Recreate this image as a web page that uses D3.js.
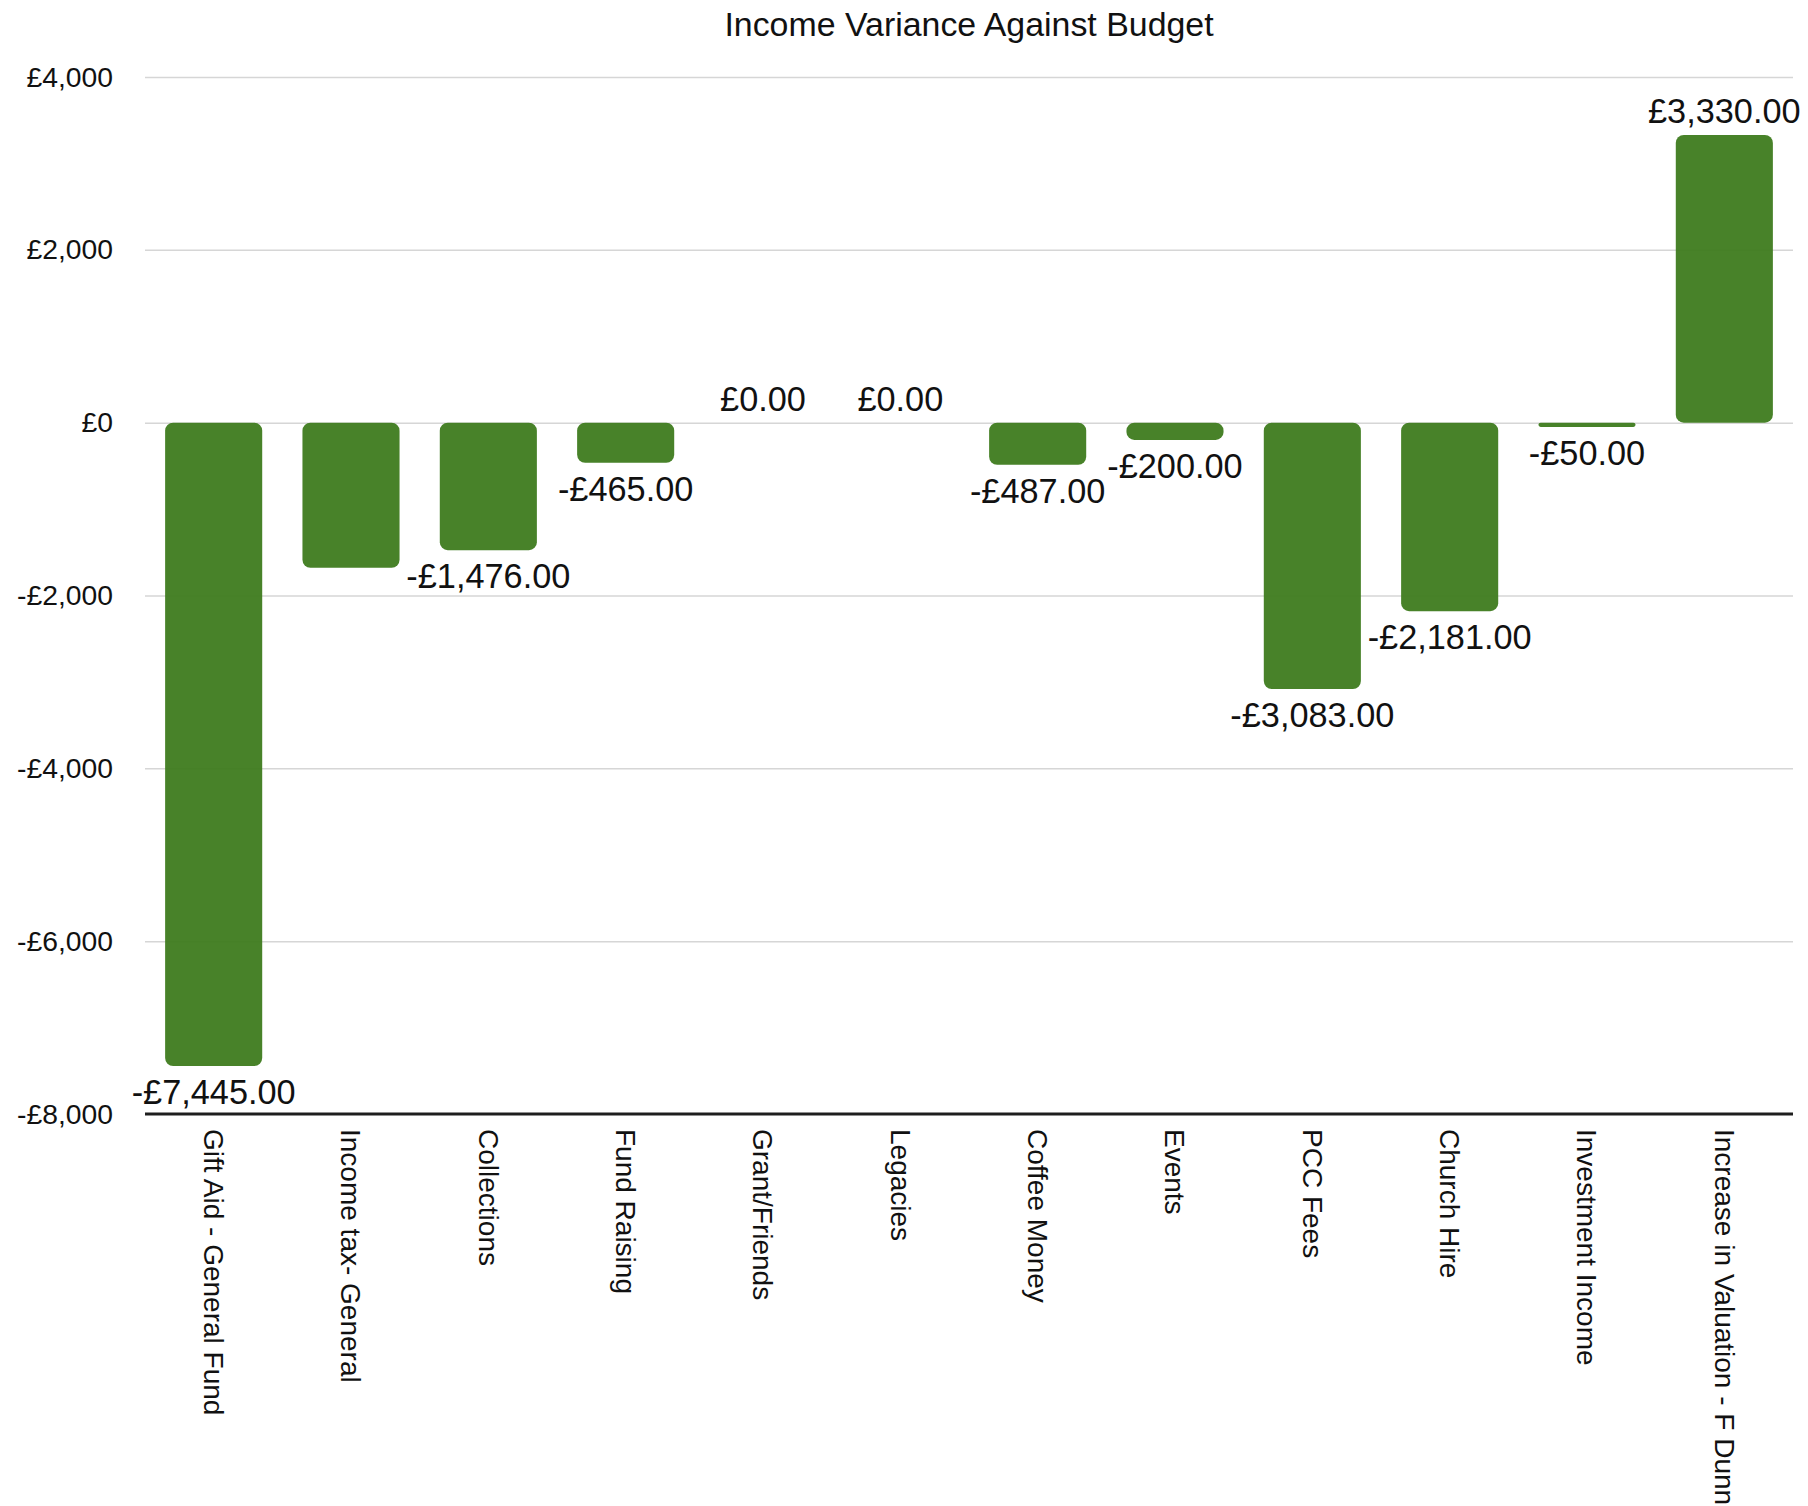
<!DOCTYPE html>
<html>
<head>
<meta charset="utf-8">
<script src="https://cdn.jsdelivr.net/npm/d3@7"></script>
<style>
  html, body { margin: 0; padding: 0; background: #ffffff; }
  svg { display: block; font-family: "Liberation Sans", Arial, Helvetica, sans-serif; }
</style>
</head>
<body>
<svg id="chart" width="1808" height="1506"></svg>
<script>
const title = "Income Variance Against Budget";
const categories = [
  "Gift Aid - General Fund", "Income tax- General", "Collections", "Fund Raising",
  "Grant/Friends", "Legacies", "Coffee Money", "Events", "PCC Fees",
  "Church Hire", "Investment Income", "Increase in Valuation - F Dunn"
];
const values = [-7445, -1680, -1476, -465, 0, 0, -487, -200, -3083, -2181, -50, 3330];
const labelShown = [true, false, true, true, true, true, true, true, true, true, true, true];
const yTicks = [-8000, -6000, -4000, -2000, 0, 2000, 4000];

const W = 1808, H = 1506;
const margin = { left: 145, right: 15, top: 77, bottom: 392 };
const svg = d3.select("#chart");

const x = d3.scaleBand()
  .domain(categories)
  .range([margin.left, W - margin.right])
  .paddingInner(0.293)
  .paddingOuter(0.1465);

const y = d3.scaleLinear()
  .domain([-8000, 4000])
  .range([H - margin.bottom, margin.top]);

const money = d3.format(",.0f");
const money2 = d3.format(",.2f");
const tickFmt = v => (v < 0 ? "-£" : "£") + money(Math.abs(v));
const labelFmt = v => (v < 0 ? "-£" : "£") + money2(Math.abs(v));

// Gridlines
const grid = svg.append("g")
  .attr("transform", `translate(${margin.left},0)`)
  .call(d3.axisLeft(y).tickValues(yTicks.filter(v => v > -8000))
    .tickSize(-(W - margin.left - margin.right)).tickFormat(""));
grid.select(".domain").remove();
grid.selectAll(".tick line").attr("stroke", "#d6d6d6").attr("stroke-width", 1.5);

// Y axis labels
const yAxis = svg.append("g")
  .attr("transform", `translate(${margin.left},0)`)
  .call(d3.axisLeft(y).tickValues(yTicks).tickSize(0).tickPadding(32).tickFormat(tickFmt));
yAxis.select(".domain").remove();
yAxis.selectAll("text")
  .attr("font-size", 28.3)
  .attr("fill", "#111")
  .attr("font-family", "'Liberation Sans', Arial, Helvetica, sans-serif");

// Bars
const bw = x.bandwidth();
svg.append("g").selectAll("rect")
  .data(categories.map((c, i) => ({ c, v: values[i] })).filter(d => d.v !== 0))
  .join("rect")
  .attr("x", d => x(d.c))
  .attr("width", bw)
  .attr("y", d => Math.min(y(d.v), y(0)))
  .attr("height", d => Math.abs(y(d.v) - y(0)))
  .attr("rx", d => Math.min(8, Math.abs(y(d.v) - y(0)) / 2))
  .attr("fill", "#3e7b1e")
  .attr("fill-opacity", 0.95);

// Bottom axis line
svg.append("line")
  .attr("x1", margin.left).attr("x2", W - margin.right)
  .attr("y1", y(-8000)).attr("y2", y(-8000))
  .attr("stroke", "#1e1e1e").attr("stroke-width", 3);

// Value labels
svg.append("g").selectAll("text")
  .data(categories.map((c, i) => ({ c, v: values[i], show: labelShown[i] })).filter(d => d.show))
  .join("text")
  .attr("x", d => x(d.c) + bw / 2)
  .attr("y", d => d.v < 0 ? y(d.v) + 38 : y(d.v) - 12)
  .attr("text-anchor", "middle")
  .attr("font-size", 34.3)
  .attr("fill", "#111")
  .text(d => labelFmt(d.v));

// Category labels
const xAxis = svg.append("g")
  .attr("transform", `translate(0,${y(-8000)})`)
  .call(d3.axisBottom(x).tickSize(0).tickPadding(0));
xAxis.select(".domain").remove();
xAxis.selectAll(".tick text")
  .attr("transform", "rotate(90)")
  .attr("x", 15)
  .attr("y", 0)
  .attr("dy", "0.35em")
  .attr("text-anchor", "start")
  .attr("font-size", 28)
  .attr("fill", "#111")
  .attr("font-family", "'Liberation Sans', Arial, Helvetica, sans-serif");

// Title
svg.append("text")
  .attr("x", (margin.left + W - margin.right) / 2)
  .attr("y", 36)
  .attr("text-anchor", "middle")
  .attr("font-size", 33.9)
  .attr("fill", "#111")
  .text(title);
</script>
</body>
</html>
